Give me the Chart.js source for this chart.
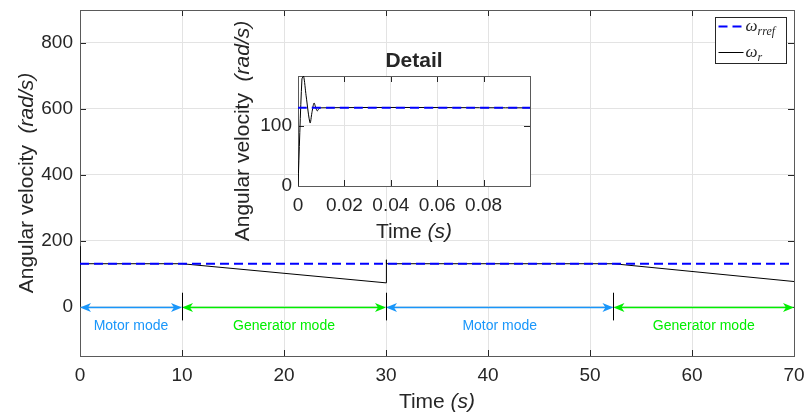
<!DOCTYPE html>
<html>
<head>
<meta charset="utf-8">
<script src="https://cdn.jsdelivr.net/npm/chart.js@4/dist/chart.umd.min.js"></script>
<style>
  html, body { margin: 0; padding: 0; background: #fff; }
  #wrap { position: relative; width: 806px; height: 414px; }
  #main { position: absolute; left: 0; top: 0; }
  #detail { position: absolute; left: 225px; top: 15px; }
</style>
</head>
<body>
<div id="wrap">
  <canvas id="main" width="806" height="414"></canvas>
  <canvas id="detail" width="315" height="240"></canvas>
</div>
<script>
// reference speed (whole run)
const timeRef = [0, 70]
const omegaRef = [130, 130]

// measured speed (whole run)
const timeR = [0, 0.0017, 0.0052, 0.0069, 0.0083, 0.0095, 10, 30, 30.001, 30.08, 52.3, 70]
const omegaR = [0, 183, 105, 138, 125, 130, 130, 72, 142, 130, 130, 76]

const xTicks = [0, 10, 20, 30, 40, 50, 60, 70]
const yTicks = [0, 200, 400, 600, 800]

// detail of the start-up
const detailTimeRef = [0, 0.1]
const detailRef = [130, 130]
const detailTime = [0, 0.0017, 0.0024, 0.0035, 0.0052, 0.006, 0.0069, 0.0077, 0.0083, 0.0095, 0.1]
const detailOmega = [0, 178, 183, 150, 105, 122, 138, 130, 125, 130, 130]
const detailXTicks = [0, 0.02, 0.04, 0.06, 0.08]
const detailYTicks = [0, 100]

// operating modes, shown as arrows on the zero line
const modeStart = [0, 10, 30, 52.3]
const modeEnd = [10, 30, 52.3, 70]
const modeName = ['Motor mode', 'Generator mode', 'Motor mode', 'Generator mode']

const SANS = '"Liberation Sans", Arial, Helvetica, sans-serif'
const SERIF = '"Liberation Serif", "Times New Roman", serif'
const TEXT = '#262626'
const BLUE_MODE = 'rgb(25,150,250)'
const GREEN_MODE = '#00ee00'

Chart.defaults.font.family = SANS
Chart.defaults.color = TEXT

function pts(xs, ys) {
  return xs.map((x, i) => ({ x: x, y: ys[i] }))
}

// no extra room for the outer tick labels, the plot box is fixed by the layout padding
function noPad(s) {
  s.paddingTop = 0
  s.paddingBottom = 0
  s.paddingLeft = 0
  s.paddingRight = 0
}

// draw a text made of several parts with different fonts, centered on cx
function drawParts(ctx, parts, cx, cy, angle) {
  ctx.save()
  ctx.translate(cx, cy)
  ctx.rotate(angle)
  ctx.textBaseline = 'alphabetic'
  ctx.fillStyle = TEXT
  let total = 0
  parts.forEach(p => { ctx.font = p[1]; total += ctx.measureText(p[0]).width })
  let x = -total / 2
  parts.forEach(p => {
    ctx.font = p[1]
    ctx.fillText(p[0], x, 0)
    x += ctx.measureText(p[0]).width
  })
  ctx.restore()
}

// matlab style box with inward ticks on all four sides
const boxTicks = {
  id: 'boxTicks',
  beforeDatasetsDraw(chart) {
    const ctx = chart.ctx
    const a = chart.chartArea
    const x = chart.scales.x, y = chart.scales.y
    const len = 6
    ctx.save()
    ctx.strokeStyle = TEXT
    ctx.lineWidth = 1
    ctx.beginPath()
    x.ticks.forEach(t => {
      const px = Math.round(x.getPixelForValue(t.value)) + 0.5
      ctx.moveTo(px, a.bottom); ctx.lineTo(px, a.bottom - len)
      ctx.moveTo(px, a.top); ctx.lineTo(px, a.top + len)
    })
    y.ticks.forEach(t => {
      const py = Math.round(y.getPixelForValue(t.value)) + 0.5
      ctx.moveTo(a.left, py); ctx.lineTo(a.left + len, py)
      ctx.moveTo(a.right, py); ctx.lineTo(a.right - len, py)
    })
    ctx.stroke()
    ctx.strokeStyle = '#5a5a5a'
    ctx.strokeRect(Math.round(a.left) + 0.5, Math.round(a.top) + 0.5,
      Math.round(a.right - a.left), Math.round(a.bottom - a.top))
    ctx.restore()
  }
}

function arrowHead(ctx, tipX, y, dir) {
  const L = 11, W = 4.5, notch = 3
  ctx.beginPath()
  ctx.moveTo(tipX, y)
  ctx.lineTo(tipX - dir * L, y - W)
  ctx.lineTo(tipX - dir * (L - notch), y)
  ctx.lineTo(tipX - dir * L, y + W)
  ctx.closePath()
  ctx.fill()
}

const modes = {
  id: 'modes',
  afterDatasetsDraw(chart) {
    const ctx = chart.ctx
    const x = chart.scales.x, y = chart.scales.y
    const y0 = Math.round(y.getPixelForValue(0)) + 0.5
    ctx.save()
    for (let i = 0; i < modeName.length; i++) {
      const col = modeName[i] == 'Motor mode' ? BLUE_MODE : GREEN_MODE
      const x1 = x.getPixelForValue(modeStart[i])
      const x2 = x.getPixelForValue(modeEnd[i])
      ctx.strokeStyle = col
      ctx.fillStyle = col
      ctx.lineWidth = 1.5
      ctx.beginPath()
      ctx.moveTo(x1 + 4, y0); ctx.lineTo(x2 - 4, y0)
      ctx.stroke()
      arrowHead(ctx, x1, y0, -1)
      arrowHead(ctx, x2, y0, 1)
      ctx.font = '14px ' + SANS
      ctx.textAlign = 'center'
      ctx.textBaseline = 'middle'
      ctx.fillText(modeName[i], (x1 + x2) / 2, y.getPixelForValue(-58))
    }
    // separators between modes
    ctx.strokeStyle = '#000'
    ctx.lineWidth = 1
    ctx.beginPath()
    for (let i = 1; i < modeStart.length; i++) {
      const px = Math.round(x.getPixelForValue(modeStart[i])) + 0.5
      ctx.moveTo(px, y.getPixelForValue(42))
      ctx.lineTo(px, y.getPixelForValue(-42))
    }
    ctx.stroke()
    ctx.restore()
  },
  afterDraw(chart) {
    const ctx = chart.ctx
    const a = chart.chartArea
    drawParts(ctx, [['Time ', '21px ' + SANS], ['(s)', 'italic 21px ' + SANS]],
      (a.left + a.right) / 2, 408, 0)
    drawParts(ctx, [['Angular velocity  ', '21px ' + SANS], ['(rad/s)', 'italic 21px ' + SANS]],
      33, (a.top + a.bottom) / 2, -Math.PI / 2)

    // legend box in the upper right corner
    const ds = chart.data.datasets
    const bw = 71, bh = 46
    const bx = Math.round(a.right - 8 - bw) + 0.5
    const by = Math.round(a.top + 7) + 0.5
    ctx.save()
    ctx.fillStyle = '#fff'
    ctx.fillRect(bx, by, bw, bh)
    ctx.strokeStyle = TEXT
    ctx.lineWidth = 1
    ctx.strokeRect(bx, by, bw, bh)
    const rows = [[ds[0], 'rref', 9], [ds[1], 'r', 35]]
    rows.forEach(r => {
      const ly = by + r[2]
      ctx.strokeStyle = r[0].borderColor
      ctx.lineWidth = r[0].borderWidth
      ctx.setLineDash(r[0].borderDash || [])
      ctx.beginPath()
      ctx.moveTo(bx + 3, ly); ctx.lineTo(bx + 28, ly)
      ctx.stroke()
      ctx.setLineDash([])
      ctx.fillStyle = TEXT
      ctx.textBaseline = 'alphabetic'
      ctx.font = 'italic 17px ' + SERIF
      ctx.fillText('\u03c9', bx + 30, ly + 4)
      const w = ctx.measureText('\u03c9').width
      ctx.font = 'italic 12px ' + SERIF
      ctx.fillText(r[1], bx + 30 + w, ly + 8)
    })
    ctx.restore()
  }
}

new Chart(document.getElementById('main'), {
  type: 'line',
  data: {
    datasets: [
      {
        label: '\u03c9rref',
        data: pts(timeRef, omegaRef),
        borderColor: '#0000ff',
        borderWidth: 2,
        borderDash: [9, 5]
      },
      {
        label: '\u03c9r',
        data: pts(timeR, omegaR),
        borderColor: '#000000',
        borderWidth: 1
      }
    ]
  },
  options: {
    responsive: false,
    animation: false,
    events: [],
    elements: { point: { radius: 0 }, line: { tension: 0 } },
    layout: { padding: { left: 0, top: 10, right: 12, bottom: 0 } },
    plugins: { legend: { display: false }, tooltip: { enabled: false } },
    scales: {
      x: {
        type: 'linear',
        min: 0,
        max: 70,
        afterBuildTicks: s => { s.ticks = xTicks.map(v => ({ value: v })) },
        afterFit: s => { s.height = 58; noPad(s) },
        ticks: { font: { size: 19 }, padding: 8, maxRotation: 0, callback: v => String(v) },
        grid: { color: '#e3e3e3', drawTicks: false },
        border: { display: false }
      },
      y: {
        type: 'linear',
        min: -150,
        max: 900,
        afterBuildTicks: s => { s.ticks = yTicks.map(v => ({ value: v })) },
        afterFit: s => { s.width = 80; noPad(s) },
        ticks: { font: { size: 19 }, padding: 7, callback: v => String(v) },
        grid: { color: '#e3e3e3', drawTicks: false },
        border: { display: false }
      }
    }
  },
  plugins: [boxTicks, modes]
})

const detailDeco = {
  id: 'detailDeco',
  beforeDraw(chart) {
    const a = chart.chartArea
    chart.ctx.save()
    chart.ctx.fillStyle = '#fff'
    chart.ctx.fillRect(a.left, a.top, a.right - a.left, a.bottom - a.top)
    chart.ctx.restore()
  },
  afterDraw(chart) {
    const ctx = chart.ctx
    const a = chart.chartArea
    drawParts(ctx, [['Detail', 'bold 21px ' + SANS]], (a.left + a.right) / 2, a.top - 9, 0)
    drawParts(ctx, [['Time ', '21px ' + SANS], ['(s)', 'italic 21px ' + SANS]],
      (a.left + a.right) / 2, a.bottom + 52, 0)
    drawParts(ctx, [['Angular velocity  ', '21px ' + SANS], ['(rad/s)', 'italic 21px ' + SANS]],
      a.left - 49, (a.top + a.bottom) / 2, -Math.PI / 2)
  }
}

new Chart(document.getElementById('detail'), {
  type: 'line',
  data: {
    datasets: [
      {
        data: pts(detailTimeRef, detailRef),
        borderColor: '#0000ff',
        borderWidth: 2,
        borderDash: [9, 5]
      },
      {
        data: pts(detailTime, detailOmega),
        borderColor: '#000000',
        borderWidth: 1
      }
    ]
  },
  options: {
    responsive: false,
    animation: false,
    events: [],
    elements: { point: { radius: 0 }, line: { tension: 0.3 } },
    layout: { padding: { left: 0, top: 61, right: 10, bottom: 0 } },
    plugins: { legend: { display: false }, tooltip: { enabled: false } },
    scales: {
      x: {
        type: 'linear',
        min: 0,
        max: 0.1,
        afterBuildTicks: s => { s.ticks = detailXTicks.map(v => ({ value: v })) },
        afterFit: s => { s.height = 69; noPad(s) },
        ticks: { font: { size: 19 }, padding: 8, maxRotation: 0, autoSkip: false, callback: v => String(v) },
        grid: { color: '#e3e3e3', drawTicks: false },
        border: { display: false }
      },
      y: {
        type: 'linear',
        min: 0,
        max: 183,
        afterBuildTicks: s => { s.ticks = detailYTicks.map(v => ({ value: v })) },
        afterFit: s => { s.width = 73; noPad(s) },
        ticks: { font: { size: 19 }, padding: 6, callback: v => String(v) },
        grid: { color: '#e3e3e3', drawTicks: false },
        border: { display: false }
      }
    }
  },
  plugins: [detailDeco, boxTicks]
})
</script>
</body>
</html>
